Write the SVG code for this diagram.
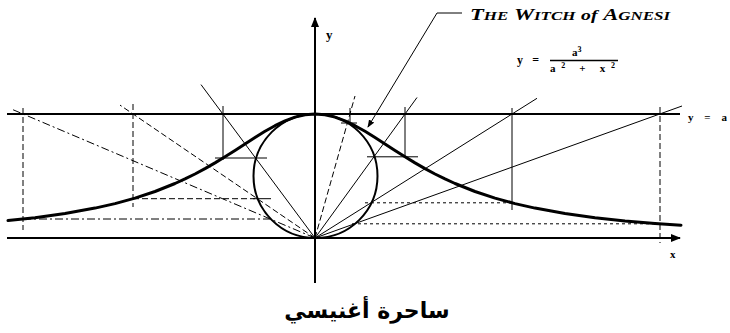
<svg xmlns="http://www.w3.org/2000/svg" width="730" height="333" viewBox="0 0 730 333">
<defs>
<style>
.axis{stroke:#000;stroke-width:2;fill:none}
.curve{stroke:#000;stroke-width:3;fill:none;stroke-linejoin:round;stroke-linecap:round}
.circ{stroke:#000;stroke-width:2;fill:none}
.thin{stroke:#000;stroke-width:1;fill:none}
.dash{stroke:#000;stroke-width:1;fill:none;stroke-dasharray:6 3}
.dashdot{stroke:#000;stroke-width:1;fill:none;stroke-dasharray:8 3 2 3}
.dot{stroke:#000;stroke-width:1;fill:none;stroke-dasharray:3 3}
.lab{font-family:"Liberation Serif",serif;font-weight:bold;fill:#000}
</style>
<marker id="arr" markerWidth="10" markerHeight="8" refX="9" refY="4" orient="auto" markerUnits="userSpaceOnUse">
<path d="M0,0 L10,4 L0,8 z" fill="#000"/>
</marker>
<marker id="arrs" markerWidth="8" markerHeight="6" refX="7" refY="3" orient="auto" markerUnits="userSpaceOnUse">
<path d="M0,0 L8,3 L0,6 z" fill="#000"/>
</marker>
</defs>
<rect width="730" height="333" fill="#fff"/>
<g id="connectors">
<line class="dashdot" x1="315" y1="238" x2="12" y2="109.3"/>
<line class="dash" x1="315" y1="238" x2="120" y2="105.1"/>
<line class="thin" x1="315" y1="238" x2="201" y2="84.6"/>
<line class="dash" x1="315" y1="238" x2="355" y2="96"/>
<line class="thin" x1="315" y1="238" x2="417" y2="97.5"/>
<line class="thin" x1="315" y1="238" x2="537" y2="98.3"/>
<line class="thin" x1="315" y1="238" x2="682" y2="106"/>
<line class="dash" x1="23" y1="108" x2="23" y2="230"/>
<line class="dash" x1="133" y1="104" x2="133" y2="207"/>
<line class="thin" x1="223" y1="106" x2="223" y2="160"/>
<line class="thin" x1="350" y1="108" x2="350" y2="124"/>
<line class="thin" x1="405" y1="107" x2="405" y2="158"/>
<line class="thin" x1="512" y1="108" x2="512" y2="210"/>
<line class="dash" x1="660" y1="107" x2="660" y2="243"/>
<line class="dashdot" x1="23" y1="219" x2="270" y2="219"/>
<line class="dash" x1="133" y1="198.7" x2="255" y2="198.7"/>
<line class="thin" x1="253" y1="198.7" x2="271" y2="198.7"/>
<line class="thin" x1="215" y1="158" x2="267" y2="158"/>
<line class="thin" x1="341" y1="123" x2="357" y2="123"/>
<line class="thin" x1="367" y1="156.8" x2="418" y2="156.8"/>
<line class="dot" x1="365" y1="202.8" x2="512" y2="202.8"/>
<line class="dot" x1="352" y1="223.8" x2="660" y2="223.8"/>
<polyline class="thin" points="462,13 437,13 368,127" stroke-width="1.5" marker-end="url(#arrs)"/>
</g>
<g id="axes">
<line class="axis" x1="7" y1="114" x2="680" y2="114"/>
<line class="axis" x1="7" y1="238" x2="680" y2="238" marker-end="url(#arr)"/>
<line class="axis" x1="315" y1="283" x2="315" y2="18" marker-end="url(#arr)"/>
</g>
<g id="circle">
<circle class="circ" cx="315.5" cy="176" r="62"/>
</g>
<g id="witch">
<polyline class="curve" points="8,220.6 35,217.7 65,213.5 95,208.1 115,203.6 135,198.1 155,191.5 175,183.5 185,178.9 195,174 205,168.6 215,162.9 225,156.8 235,150.4 245,144 255,137.5 265,131.3 275,125.7 285,120.9 295,117.1 305,114.8 315,114 325,114.8 335,117.1 345,120.9 355,125.7 365,131.3 375,137.5 385,144 395,150.4 405,156.8 415,162.9 425,168.6 435,174 445,178.9 455,183.5 475,191.5 495,198.1 515,203.6 535,208.1 565,213.5 595,217.7 625,220.9 655,223.4 681,225.2"/>
</g>
<g id="labels">
<text class="lab" x="326" y="39" font-size="13">y</text>
<text class="lab" x="670" y="258" font-size="11">x</text>
<text class="lab" x="688" y="121" font-size="11" textLength="39" lengthAdjust="spacing">y = a</text>
<text class="lab" x="470" y="20" font-style="italic" textLength="200" lengthAdjust="spacingAndGlyphs"><tspan font-size="16">T</tspan><tspan font-size="12">HE</tspan> <tspan font-size="16">W</tspan><tspan font-size="12">ITCH</tspan> <tspan font-size="14">of</tspan> <tspan font-size="16">A</tspan><tspan font-size="12">GNESI</tspan></text>
<g id="formula">
<text class="lab" x="517" y="64" font-size="12" textLength="22" lengthAdjust="spacing">y =</text>
<text class="lab" x="572" y="56" font-size="11">a<tspan font-size="8" dy="-4">3</tspan></text>
<line x1="550" y1="60.5" x2="618" y2="60.5" stroke="#000" stroke-width="1.4"/>
<text class="lab" x="550" y="72" font-size="11" textLength="65" lengthAdjust="spacing">a<tspan font-size="8" dy="-4">2</tspan><tspan dy="4"> + x</tspan><tspan font-size="8" dy="-4">2</tspan></text>
</g>
<text x="367" y="318" font-family="'DejaVu Sans',sans-serif" font-weight="bold" font-size="22" text-anchor="middle" direction="rtl">ساحرة أغنيسي</text>
</g>
</svg>
